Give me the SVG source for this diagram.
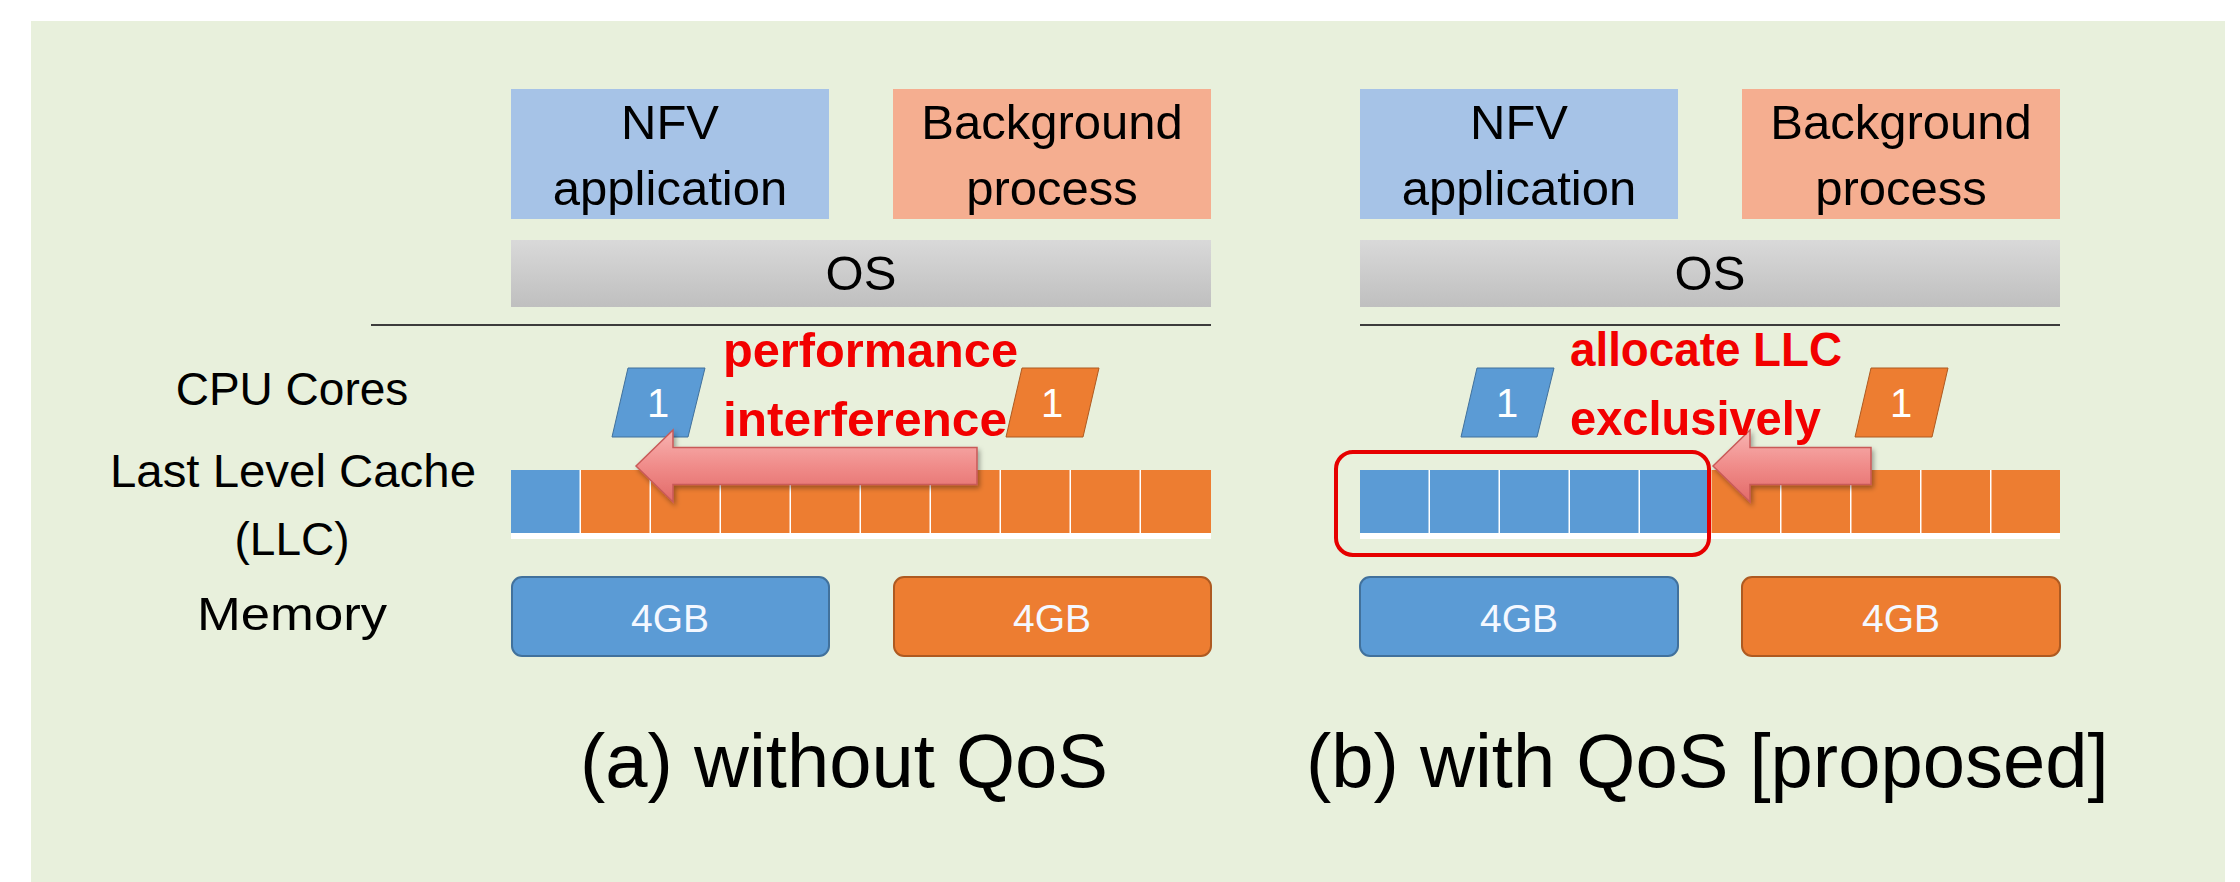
<svg xmlns="http://www.w3.org/2000/svg" width="2240" height="882" viewBox="0 0 2240 882">
  <defs>
    <style>
      .t { font-family: "Liberation Sans", Arial, sans-serif; fill: #000; }
      .lbl { font-size: 46px; text-anchor: middle; }
      .box { font-size: 49px; text-anchor: middle; }
      .red { font-size: 49px; font-weight: bold; fill: #F20000; }
      .cap { font-size: 76px; }
      .wnum { font-size: 40px; fill: #FFFFFF; text-anchor: middle; }
      .gb { font-size: 39px; fill: #F4F8FF; text-anchor: middle; }
      .nfv { fill: #A6C3E7; }
      .bg { fill: #F5AE90; }
      .os { fill: url(#gray); }
      .blue { fill: #5B9BD5; }
      .orange { fill: #ED7D31; }
      .coreb { fill: #5B9BD5; stroke: #41719C; stroke-width: 1; }
      .coreo { fill: #ED7D31; stroke: #AE5A21; stroke-width: 1; }
      .memb { fill: #5B9BD5; stroke: #41719C; stroke-width: 2; }
      .memo { fill: #ED7D31; stroke: #AE5A21; stroke-width: 2; }
      .arrow { fill: url(#pink); stroke: #C85A58; stroke-width: 1.5; filter: url(#shadow); }
      .rule { stroke: #3C3C3C; stroke-width: 2; }
    </style>
    <linearGradient id="gray" x1="0" y1="0" x2="0" y2="1">
      <stop offset="0" stop-color="#D9D9D9"/>
      <stop offset="1" stop-color="#BFBFBF"/>
    </linearGradient>
    <linearGradient id="pink" x1="0" y1="0" x2="0" y2="1">
      <stop offset="0" stop-color="#F8B4B2"/>
      <stop offset="0.5" stop-color="#F08C8A"/>
      <stop offset="1" stop-color="#E26A68"/>
    </linearGradient>
    <filter id="shadow" x="-10%" y="-30%" width="120%" height="160%">
      <feDropShadow dx="2" dy="3" stdDeviation="2.5" flood-color="#000" flood-opacity="0.35"/>
    </filter>
  </defs>

  <rect x="0" y="0" width="2240" height="882" fill="#FFFFFF"/>
  <rect id="panel" x="31" y="21" width="2194" height="861" fill="#E8F0DC"/>

  <!-- Row labels -->
  <g id="row-labels">
    <text class="t lbl" x="292" y="405">CPU Cores</text>
    <text class="t lbl" x="293" y="487" textLength="366" lengthAdjust="spacingAndGlyphs">Last Level Cache</text>
    <text class="t lbl" x="292" y="555">(LLC)</text>
    <text class="t lbl" x="292" y="630" textLength="190" lengthAdjust="spacingAndGlyphs">Memory</text>
  </g>

  <!-- ===== (a) without QoS ===== -->
  <g id="a-nfv">
    <rect class="nfv" x="511" y="89" width="318" height="130"/>
    <text class="t box" x="670" y="139">NFV</text>
    <text class="t box" x="670" y="205">application</text>
  </g>
  <g id="a-bg">
    <rect class="bg" x="893" y="89" width="318" height="130"/>
    <text class="t box" x="1052" y="139">Background</text>
    <text class="t box" x="1052" y="205">process</text>
  </g>
  <g id="a-os">
    <rect class="os" x="511" y="240" width="700" height="67"/>
    <text class="t box" x="861" y="290">OS</text>
  </g>
  <line class="rule" x1="371" y1="325" x2="1211" y2="325"/>

  <g id="a-core-blue">
    <polygon class="coreb" points="628,368 705,368 688,437 612,437"/>
    <text class="t wnum" x="658" y="417">1</text>
  </g>
  <g id="a-core-orange">
    <polygon class="coreo" points="1022,368 1099,368 1083,437 1006,437"/>
    <text class="t wnum" x="1052" y="417">1</text>
  </g>

  <g id="a-llc">
    <rect x="511" y="470" width="700" height="69" fill="#FFFFFF"/>
    <rect class="blue" x="511" y="470" width="68.5" height="63"/>
    <rect class="orange" x="581" y="470" width="68.5" height="63"/>
    <rect class="orange" x="651" y="470" width="68.5" height="63"/>
    <rect class="orange" x="721" y="470" width="68.5" height="63"/>
    <rect class="orange" x="791" y="470" width="68.5" height="63"/>
    <rect class="orange" x="861" y="470" width="68.5" height="63"/>
    <rect class="orange" x="931" y="470" width="68.5" height="63"/>
    <rect class="orange" x="1001" y="470" width="68.5" height="63"/>
    <rect class="orange" x="1071" y="470" width="68.5" height="63"/>
    <rect class="orange" x="1141" y="470" width="70" height="63"/>
  </g>

  <g id="a-mem-blue">
    <rect class="memb" x="512" y="577" width="317" height="79" rx="10"/>
    <text class="t gb" x="670" y="632">4GB</text>
  </g>
  <g id="a-mem-orange">
    <rect class="memo" x="894" y="577" width="317" height="79" rx="10"/>
    <text class="t gb" x="1052" y="632">4GB</text>
  </g>

  <!-- ===== (b) with QoS ===== -->
  <g id="b-nfv">
    <rect class="nfv" x="1360" y="89" width="318" height="130"/>
    <text class="t box" x="1519" y="139">NFV</text>
    <text class="t box" x="1519" y="205">application</text>
  </g>
  <g id="b-bg">
    <rect class="bg" x="1742" y="89" width="318" height="130"/>
    <text class="t box" x="1901" y="139">Background</text>
    <text class="t box" x="1901" y="205">process</text>
  </g>
  <g id="b-os">
    <rect class="os" x="1360" y="240" width="700" height="67"/>
    <text class="t box" x="1710" y="290">OS</text>
  </g>
  <line class="rule" x1="1360" y1="325" x2="2060" y2="325"/>

  <g id="b-core-blue">
    <polygon class="coreb" points="1477,368 1554,368 1537,437 1461,437"/>
    <text class="t wnum" x="1507" y="417">1</text>
  </g>
  <g id="b-core-orange">
    <polygon class="coreo" points="1871,368 1948,368 1932,437 1855,437"/>
    <text class="t wnum" x="1901" y="417">1</text>
  </g>

  <g id="b-llc">
    <rect x="1360" y="470" width="700" height="69" fill="#FFFFFF"/>
    <rect class="blue" x="1360" y="470" width="68.5" height="63"/>
    <rect class="blue" x="1430" y="470" width="68.5" height="63"/>
    <rect class="blue" x="1500" y="470" width="68.5" height="63"/>
    <rect class="blue" x="1570" y="470" width="68.5" height="63"/>
    <rect class="blue" x="1640" y="470" width="70" height="63"/>
    <rect class="orange" x="1711.5" y="470" width="68.5" height="63"/>
    <rect class="orange" x="1781.5" y="470" width="68.5" height="63"/>
    <rect class="orange" x="1851.5" y="470" width="68.5" height="63"/>
    <rect class="orange" x="1921.5" y="470" width="68.5" height="63"/>
    <rect class="orange" x="1991.5" y="470" width="68.5" height="63"/>
  </g>

  <g id="b-mem-blue">
    <rect class="memb" x="1360" y="577" width="318" height="79" rx="10"/>
    <text class="t gb" x="1519" y="632">4GB</text>
  </g>
  <g id="b-mem-orange">
    <rect class="memo" x="1742" y="577" width="318" height="79" rx="10"/>
    <text class="t gb" x="1901" y="632">4GB</text>
  </g>

  <!-- connectors / annotation arrows -->
  <g id="connectors">
    <path class="arrow" d="M636,466 L673,430 L673,447.5 L977,447.5 L977,484.5 L673,484.5 L673,502 Z"/>
    <path class="arrow" d="M1713,466 L1750,430 L1750,447.5 L1871,447.5 L1871,484.5 L1750,484.5 L1750,502 Z"/>
  </g>

  <g id="b-exclusive-box">
    <rect x="1336" y="452" width="373" height="103" rx="17" fill="none" stroke="#E60000" stroke-width="4"/>
  </g>

  <g id="a-annotation">
    <text class="t red" x="723" y="367" textLength="295" lengthAdjust="spacingAndGlyphs">performance</text>
    <text class="t red" x="723" y="436" textLength="284" lengthAdjust="spacingAndGlyphs">interference</text>
  </g>
  <g id="b-annotation">
    <text class="t red" x="1570" y="366" textLength="272" lengthAdjust="spacingAndGlyphs">allocate LLC</text>
    <text class="t red" x="1570" y="435" textLength="251" lengthAdjust="spacingAndGlyphs">exclusively</text>
  </g>

  <g id="captions">
    <text class="t cap" x="580" y="787">(a) without QoS</text>
    <text class="t cap" x="1306" y="787">(b) with QoS [proposed]</text>
  </g>
</svg>
